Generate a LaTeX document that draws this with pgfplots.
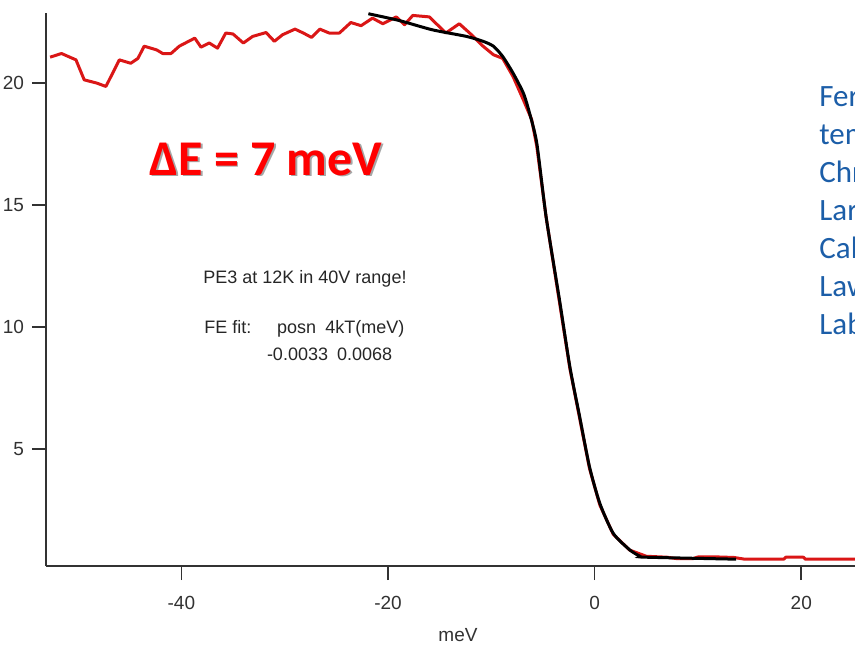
\documentclass[border=0pt]{standalone}
\usepackage{pgfplots}
\pgfplotsset{compat=1.18}
\usepackage{fontspec}
\setmainfont{Liberation Sans}
\newfontfamily\carlito{Carlito}
\definecolor{curvered}{RGB}{218,22,22}
\definecolor{axgray}{RGB}{50,50,50}
\definecolor{noteblue}{RGB}{28,94,168}
\begin{document}
\begin{tikzpicture}
\clip (0,0) rectangle (427.5pt,322pt);
\begin{axis}[
  at={(23pt,39pt)}, anchor=south west,
  scale only axis, width=404.5pt, height=276.5pt,
  xmin=-53.1, xmax=25.2, ymin=0.2, ymax=22.86,
  axis x line*=bottom, axis y line*=left,
  axis line style={-, draw=axgray, line width=0.8pt},
  xtick={-40,-20,0,20}, ytick={5,10,15,20},
  minor tick num=0,
  tick align=outside, major tick length=7pt,
  tick style={draw=axgray, line width=0.8pt},
  /pgf/number format/assume math mode=true,
  ticklabel style={font=\fontsize{9.5}{11}\selectfont, text=axgray},
  xticklabel style={yshift=-4.5pt},
  yticklabel style={xshift=-0.5pt},
  clip=true,
]
\addplot[curvered, line width=1.5pt, line join=round] coordinates {
(-52.7,21.05) (-51.6,21.2) (-50.2,20.94) (-49.4,20.12) (-48.2,19.99) (-47.3,19.85)
(-46.0,20.94) (-44.9,20.8) (-44.2,21.0) (-43.6,21.5) (-42.4,21.35) (-41.8,21.2)
(-41.0,21.2) (-40.2,21.5) (-38.7,21.83) (-38.1,21.46) (-37.3,21.63) (-36.5,21.42)
(-35.7,22.04) (-35.0,22.0) (-34.0,21.63) (-33.1,21.9) (-31.8,22.06) (-31.0,21.7)
(-30.2,21.97) (-29.0,22.2) (-28.2,22.04) (-27.4,21.86) (-26.6,22.2) (-25.7,22.04)
(-24.7,22.04) (-23.6,22.47) (-22.6,22.34) (-21.5,22.65) (-20.5,22.42) (-19.2,22.7)
(-18.4,22.38) (-17.6,22.76) (-16.0,22.7) (-14.4,22.04) (-13.1,22.42) (-12.1,22.04)
(-10.8,21.5) (-9.8,21.15) (-8.9,21.0) (-7.9,20.26) (-6.9,19.3) (-6.1,18.5)
(-5.6,17.4) (-4.7,14.5) (-3.4,11.0) (-2.4,8.3) (-1.45,6.25) (-0.5,4.2)
(0.5,2.7) (1.8,1.5) (3.4,0.85) (5.0,0.6) (7.0,0.56) (8.0,0.5) (9.5,0.5)
(10.0,0.57) (12.0,0.57) (13.5,0.55) (14.5,0.48) (18.3,0.48) (18.5,0.56)
(20.2,0.56) (20.4,0.48) (25.2,0.48)
};
\addplot[black, line width=1.5pt, smooth, tension=0.4] coordinates {
(-21.9,22.83) (-18.9,22.55) (-15.7,22.17) (-12.4,21.9) (-10.8,21.7) (-9.8,21.5)
(-8.9,21.08) (-7.9,20.4) (-6.9,19.58) (-6.3,18.76) (-5.6,17.53) (-4.7,14.52)
(-3.4,11.1) (-2.4,8.37) (-1.45,6.32) (-0.5,4.27) (0.5,2.77) (1.8,1.54)
(3.4,0.86) (4.4,0.6) (5.0,0.56) (13.7,0.48)
};
\end{axis}
% x-axis label
\node[font=\fontsize{9.5}{11}\selectfont, text=axgray] at (229pt,4.5pt) {meV};
% Delta E annotation with shadow
\node[anchor=base west, inner sep=0pt, text=black!35, font=\carlito\bfseries\fontsize{25}{28}\selectfont] at (75.4pt,233.7pt) {ΔE = 7 meV};
\node[anchor=base west, inner sep=0pt, text=red, font=\carlito\bfseries\fontsize{25}{28}\selectfont] at (74.5pt,234.5pt) {ΔE = 7 meV};
% fit info
\node[anchor=base west, inner sep=0pt, font=\fontsize{9}{11}\selectfont, text=black!85] at (101.5pt,180.5pt) {PE3 at 12K in 40V range!};
\node[anchor=base west, inner sep=0pt, font=\fontsize{9}{11}\selectfont, text=black!85] at (102pt,155.5pt) {FE fit:};
\node[anchor=base west, inner sep=0pt, font=\fontsize{9}{11}\selectfont, text=black!85] at (138.3pt,155.5pt) {posn};
\node[anchor=base west, inner sep=0pt, font=\fontsize{9}{11}\selectfont, text=black!85] at (162.5pt,155.5pt) {4kT(meV)};
\node[anchor=base west, inner sep=0pt, font=\fontsize{9}{11}\selectfont, text=black!85] at (133.3pt,142pt) {-0.0033};
\node[anchor=base west, inner sep=0pt, font=\fontsize{9}{11}\selectfont, text=black!85] at (168.3pt,142pt) {0.0068};
% blue side note (cut off at the right edge)
\foreach \t [count=\i from 0] in {Fer,tem,Chr,Lar,Cal,Law,Lab}{
  \node[anchor=base west, inner sep=0pt, text=noteblue, font=\carlito\fontsize{15.5}{19}\selectfont] at (409.5pt,{268.6pt-19*\i pt}) {\t};
}
\end{tikzpicture}
\end{document}
